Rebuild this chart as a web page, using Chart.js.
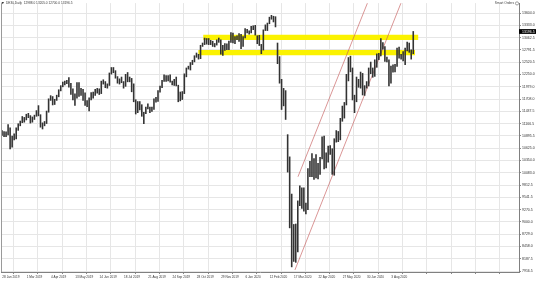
<!DOCTYPE html>
<html>
<head>
<meta charset="utf-8">
<script src="https://cdn.jsdelivr.net/npm/chart.js@4.4.1/dist/chart.umd.min.js"></script>
<style>
html,body{margin:0;padding:0;background:#fff;}
canvas{display:block;}
</style>
</head>
<body>
<canvas id="c" width="536" height="283" style="width:536px;height:283px"></canvas>
<script>
// ---- data ----
const headerText = "DE30,Daily  12988.0 13205.0 12700.0 13196.5";
const dateLabels = ["28 Jan 2019","1 Mar 2019","4 Apr 2019","13 May 2019","14 Jun 2019","18 Jul 2019","21 Aug 2019","24 Sep 2019","28 Oct 2019","29 Nov 2019","6 Jan 2020","12 Feb 2020","17 Mar 2020","22 Apr 2020","27 May 2020","30 Jun 2020","3 Aug 2020"];
const dateBarIndex = [0,24,48,72,96,120,144,168,192,216,240,264,288,312,336,360,384];
const priceTicks = [13604.0,13333.0,13062.5,12791.5,12520.5,12250.0,11979.0,11708.0,11437.5,11166.5,10895.5,10625.0,10354.0,10083.0,9812.5,9541.5,9270.5,9000.0,8729.0,8458.0,8187.5,7916.5];
// two-day slots: low / high
const slotLows = [10900,10870,10870,10910,10600,10640,10800,10820,11010,11110,11180,11190,11240,11290,11170,11190,11250,11320,11330,11080,11040,11110,11160,11410,11670,11570,11580,11670,11750,11880,11970,12010,12040,11960,11800,11680,11560,11720,11760,11780,11670,11560,11530,11440,11680,11720,11780,11830,11800,11820,12030,11950,11940,12000,12250,12280,12160,12050,12030,12060,11940,11980,12080,12080,11860,11640,11370,11400,11460,11320,11160,11380,11480,11400,11430,11470,11630,11650,11850,11950,12090,12090,12100,12070,12010,12000,11990,11640,11660,11690,11820,12190,12360,12340,12460,12520,12620,12580,12590,12860,12900,12910,12900,12900,12860,12850,12890,12950,12690,12660,12770,12790,12790,12950,12940,12920,13010,12970,12810,12860,13050,13160,13130,13160,13230,13110,12920,12880,12700,12780,13210,13210,13360,13460,13400,13290,12480,12050,11470,11550,11250,10090,8860,8000,8120,8100,8330,9350,9290,9230,9170,9260,9990,9990,9930,9960,9940,10040,10380,10160,10180,10310,10480,10040,10020,10750,10760,10800,11210,11280,11570,12100,12300,11680,11400,11640,11960,11940,11790,11780,11940,11990,12260,12180,12200,12400,12570,12650,12800,12530,12520,11990,12050,12290,12300,12420,12600,12580,12540,12460,12760,12730,12580,12700];
const slotHighs = [11020,11000,10990,11150,11080,10900,10950,11080,11170,11230,11330,11310,11380,11400,11350,11320,11360,11460,11570,11370,11190,11220,11450,11720,11790,11770,11710,11800,11920,12010,12090,12110,12130,12190,12060,11940,11830,12080,12080,11950,11930,11850,11680,11740,11860,11870,11930,11950,11940,12110,12140,12100,12050,12290,12410,12410,12340,12210,12160,12200,12100,12260,12300,12200,12170,12050,11700,11660,11660,11590,11420,11540,11610,11540,11540,11720,11750,11900,12000,12130,12250,12230,12230,12250,12110,12150,12200,12020,11870,11880,12270,12400,12440,12520,12570,12670,12730,12700,12900,12950,13060,13050,13050,13010,12990,12940,13020,13060,13020,12900,12940,12930,12990,13180,13170,13090,13110,13160,13140,13090,13270,13250,13220,13320,13330,13340,13110,13120,12920,13240,13350,13390,13520,13560,13540,13530,12950,12650,12150,11950,11900,10930,10440,9620,8950,8960,9470,9800,9760,9760,9420,10180,10340,10510,10400,10490,10300,10430,10880,10900,10530,10680,10690,10620,10840,11020,11000,11290,11560,11640,12260,12630,12660,12400,11800,12200,12150,12310,12280,12010,12100,12400,12530,12400,12580,12710,12720,13050,12960,12870,12640,12580,12440,12470,12480,12840,12860,12700,12760,12840,12970,12950,12800,13205];
const lastClose = 13196.5;
// horizontal yellow zones: price level, first bar, last bar
const zoneLevels = [13068, 12733];
const zoneStart = [199.2, 194.3];
const zoneEnd = [411.4, 408.2];
// channel trend lines (bar index, price)
const trendLower = [{x:289.7,y:7940},{x:394.3,y:13820}];
const trendUpper = [{x:292.7,y:9995},{x:361.2,y:13820}];

// ---- chart ----
const FONT = "'Liberation Sans', Arial, sans-serif";
const bars = slotLows.map((lo,k)=>({x:k*2+0.5, y:[lo, slotHighs[k]]}));
const zoneSets = zoneLevels.map((lvl,i)=>({
  type:'line', order:2,
  data:[{x:zoneStart[i],y:lvl},{x:zoneEnd[i],y:lvl}],
  borderColor:'#fbf200', borderWidth:5.2, pointRadius:0, borderCapStyle:'butt', tension:0
}));
const trendSets = [trendLower, trendUpper].map(pts=>({
  type:'line', order:1, data:pts,
  borderColor:'rgba(196,90,90,0.8)', borderWidth:0.8, pointRadius:0, tension:0
}));

const gridStep = dateBarIndex[1]-dateBarIndex[0];

const chrome = {
  id:'chrome',
  afterDraw(chart){
    const {ctx, chartArea:a, scales} = chart;
    ctx.save();
    ctx.strokeStyle = '#9a9a9a'; ctx.lineWidth = 1;
    ctx.beginPath(); ctx.moveTo(a.left+0.5, a.top); ctx.lineTo(a.left+0.5, a.bottom); ctx.stroke();
    ctx.fillStyle = '#3a3a3a';
    ctx.beginPath(); ctx.moveTo(1.5,2); ctx.lineTo(4,2); ctx.lineTo(2.75,4.2); ctx.closePath(); ctx.fill();
    ctx.font = '3.2px ' + FONT; ctx.textBaseline = 'middle'; ctx.textAlign = 'left';
    ctx.fillText(headerText, 6, 3.4);
    ctx.textAlign = 'right';
    ctx.fillText('Smart Orders', 514, 3.4);
    ctx.strokeStyle = '#666'; ctx.lineWidth = 0.6;
    ctx.beginPath(); ctx.arc(517, 3.4, 1.6, 0, Math.PI*2); ctx.stroke();
    const y = scales.y.getPixelForValue(lastClose);
    ctx.fillStyle = '#000';
    ctx.fillRect(a.right, y-2.4, chart.width - a.right, 4.8);
    ctx.fillStyle = '#fff'; ctx.textAlign = 'left';
    ctx.font = '3.5px ' + FONT;
    ctx.fillText(lastClose.toFixed(1), a.right + 3, y + 0.2);
    ctx.restore();
  }
};

new Chart(document.getElementById('c'), {
  data:{
    datasets:[
      {type:'bar', order:0, data:bars, backgroundColor:'#333333', borderWidth:0, barThickness:1.6, inflateAmount:0, minBarLength:1},
      ...trendSets,
      ...zoneSets
    ]
  },
  options:{
    responsive:false, animation:false, devicePixelRatio:1,
    layout:{padding:{top:1,left:1,right:0,bottom:0}},
    plugins:{legend:{display:false}, tooltip:{enabled:false}},
    scales:{
      x:{
        type:'linear', min:-0.5, max:510.9, offset:false,
        afterBuildTicks(s){
          const t = [];
          for(let v = dateBarIndex[0]; v <= 510; v += gridStep) t.push({value:v});
          s.ticks = t;
        },
        afterFit(s){ s.height = 11; },
        grid:{color:'#e6e6e6', lineWidth:1, tickLength:2, drawTicks:true, tickColor:'#888'},
        border:{display:true, color:'#808080', width:1},
        ticks:{
          autoSkip:false, maxRotation:0, align:'start', padding:1,
          color:'#333', font:{family:FONT, size:3.1},
          callback:(v,i)=> dateLabels[i] !== undefined ? ' '+dateLabels[i] : ''
        }
      },
      y:{
        type:'linear', position:'right', min:7894.6, max:13822.7,
        afterBuildTicks(s){ s.ticks = priceTicks.map(v=>({value:v})); },
        afterFit(s){ s.width = 17; },
        grid:{color:'#e6e6e6', lineWidth:1, tickLength:2, tickColor:'#888'},
        border:{display:true, color:'#808080', width:1},
        ticks:{
          padding:1, color:'#333', font:{family:FONT, size:3.5},
          callback:(v)=> Number(v).toFixed(1)
        }
      }
    }
  },
  plugins:[chrome]
});
</script>
</body>
</html>
